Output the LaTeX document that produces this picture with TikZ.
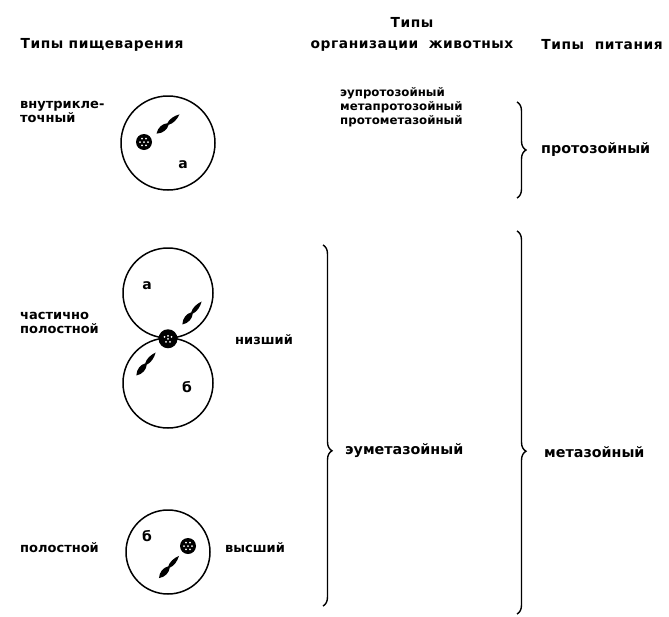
\documentclass[tikz,border=0pt]{standalone}
\usepackage{fontspec}
\setmainfont{DejaVu Sans}
\usetikzlibrary{decorations.pathreplacing,positioning}

\begin{document}
\begin{tikzpicture}[x=1pt, y=-1pt,
    head/.style={font=\bfseries\fontsize{13.8}{16}\selectfont\addfontfeatures{LetterSpace=4}, inner sep=0pt, align=center},
    lbl/.style={font=\bfseries\fontsize{14.3}{16}\selectfont, inner sep=0pt, anchor=west},
    side/.style={font=\bfseries\fontsize{13}{14.5}\selectfont, inner sep=0pt, anchor=west, align=left},
    small/.style={font=\bfseries\fontsize{11.8}{14}\selectfont, inner sep=0pt, anchor=west, align=left},
    cell/.style={draw, circle, line width=1.5pt, inner sep=0pt},
    letter/.style={font=\bfseries\fontsize{14}{14}\selectfont, inner sep=0pt},
    br/.style={decorate, decoration={brace, amplitude=9pt, aspect=#1}, line width=1.4pt},
    spindle/.pic={
        \fill (-15,0) .. controls (-10,-4) and (-4,-3.8) .. (0,-1)
              .. controls (4,-3) and (10,-2.4) .. (15,0)
              .. controls (10,2.4) and (4,3) .. (0,1)
              .. controls (-4,3.8) and (-10,4) .. cycle;},
    nucleus/.pic={
        \fill (0,0) circle (8);
        \foreach \a in {0,60,...,300} \fill[white] (\a:4) circle (1);
        \fill[white] (0,0) circle (1);}]
    \useasboundingbox (0,0) rectangle (669,616);

    % Column heads
    \node[head] (hDig) at (102,45) {Типы пищеварения};
    \node[head] (hOrg) at (412,34) {Типы\\[5pt]организации\ \ животных};
    \node[head] (hFood) at (602,45) {Типы\ \ питания};

    % Intracellular
    \node[side] (intra) at (20,112) {внутрикле-\\точный};
    \node[cell, minimum size=94pt] (c1) at (168,143) {};
    \pic[rotate=40] at (168,124) {spindle};
    \pic at (144,142) {nucleus};
    \node[letter] (a1) at (183,165) {а};

    % Partly cavitary
    \node[side] (part) at (20,323) {частично\\полостной};
    \node[cell, minimum size=90pt] (c2) at (168,293) {};
    \node[cell, minimum size=90pt] (c3) at (168,383) {};
    \fill (c2.south) circle (9.5);
    \foreach \x/\y in {-3.5/-2, 0/-3, 3.5/-2, -2/3, 2/3, 0/0}
        \fill[white] ([shift={(\x,\y)}]c2.south) circle (1);
    \pic[rotate=50] at (192,313) {spindle};
    \pic[rotate=50] at (146,364) {spindle};
    \node[letter] (a2) at (147,286) {а};
    \node[letter] (b2) at (187,387) {б};
    \node[side] (low) at (235,340) {низший};

    % Cavitary
    \node[side] (cav) at (20,548) {полостной};
    \node[cell, minimum size=84pt] (c4) at (168,552) {};
    \pic[rotate=48] at (169,567) {spindle};
    \pic at (188,546) {nucleus};
    \node[letter] (b4) at (147,536) {б};
    \node[side] (high) at (225,548) {высший};

    % Organisation types
    \node[small] (eupro) at (340,107) {эупротозойный\\метапротозойный\\протометазойный};
    \coordinate (p1) at (517,102);
    \coordinate (p2) at (517,198);
    \draw[br=0.5] (p1) -- (p2);
    \node[lbl] (proto) at (541,150) {протозойный};

    \coordinate (e1) at (323,245);
    \coordinate (e2) at (323,606);
    \draw[br=0.57] (e1) -- (e2);
    \node[lbl] (eumeta) at (345,451) {эуметазойный};

    \coordinate (m1) at (517,231);
    \coordinate (m2) at (517,614);
    \draw[br=0.575] (m1) -- (m2);
    \node[lbl] (meta) at (544,452) {метазойный};
\end{tikzpicture}
\end{document}
